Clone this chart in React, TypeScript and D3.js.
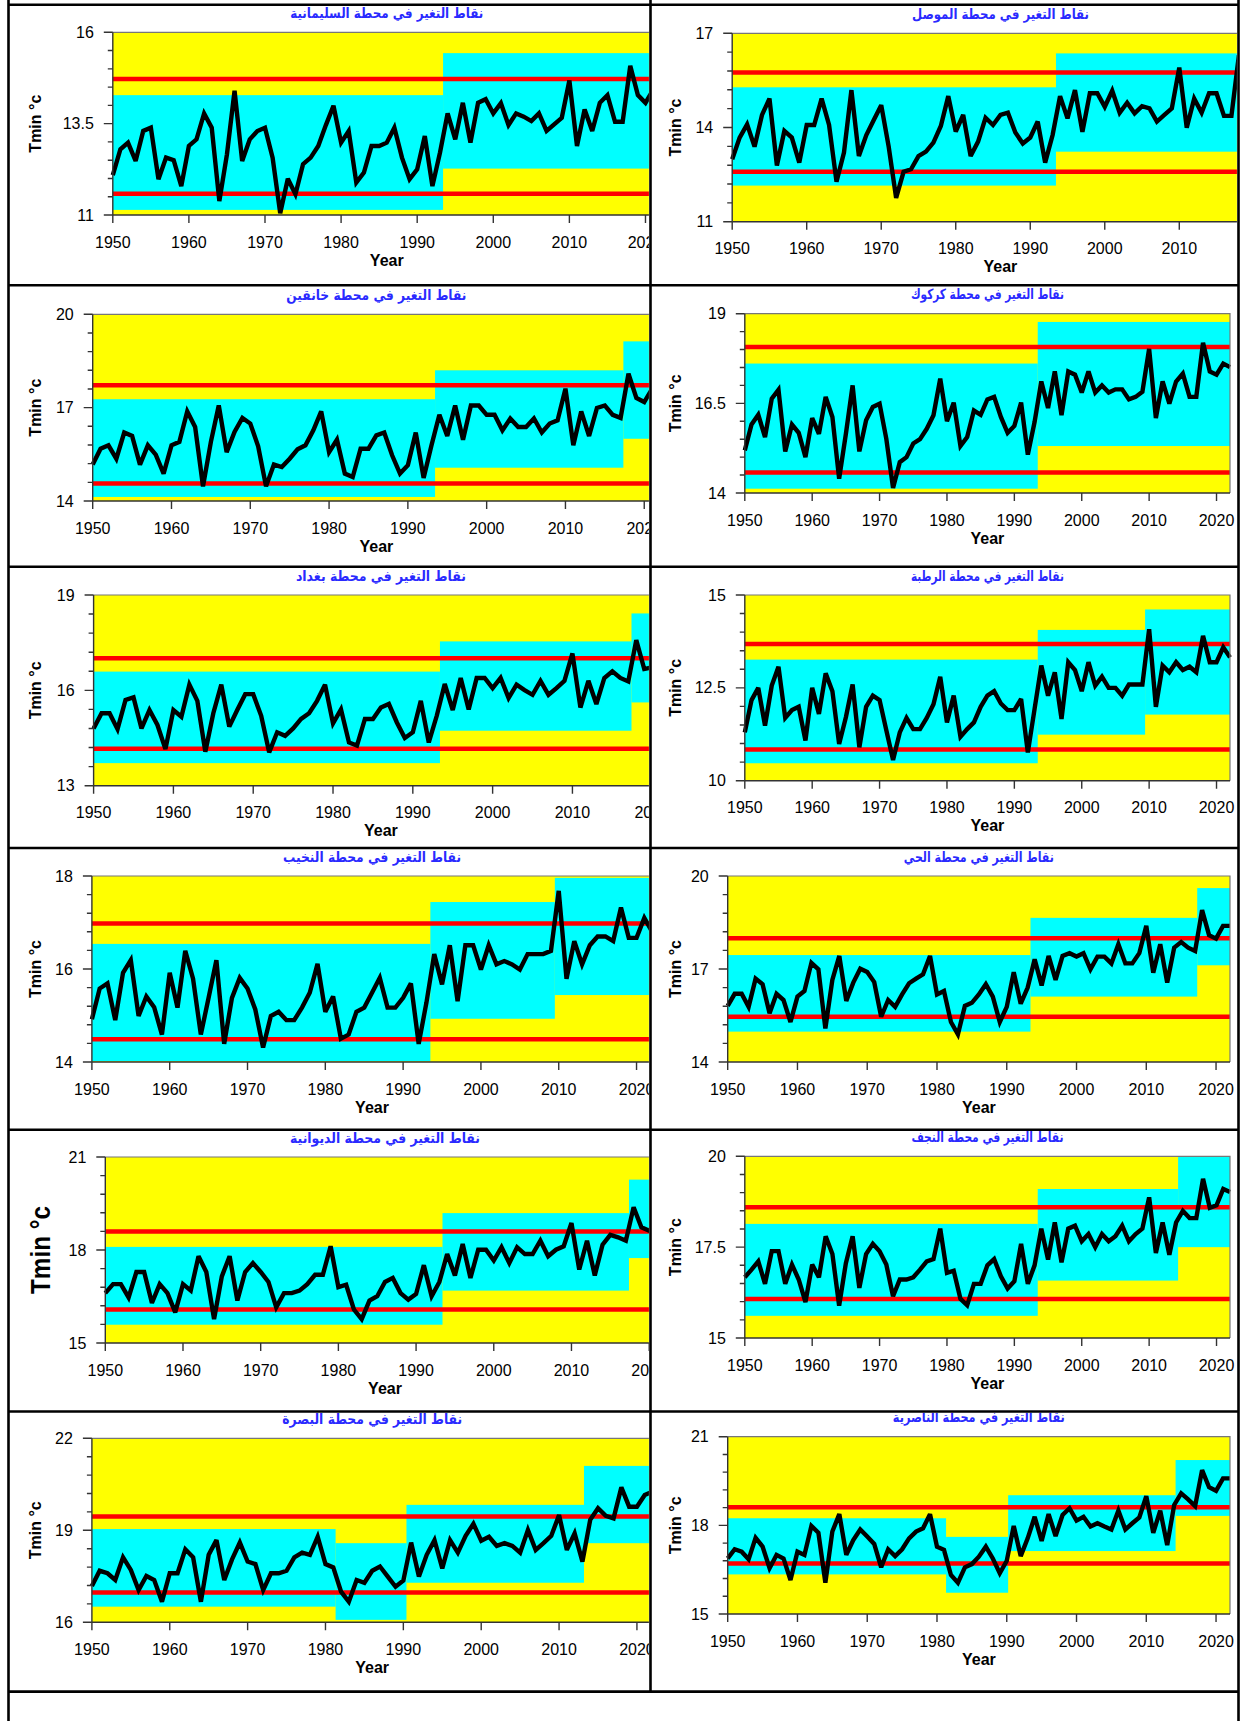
import * as React from "react";
import * as d3 from "d3";

const firstYear = 1950;
const lastYear = 2022;
const decades = d3.range(1950, 2030, 10);

const titles = [
  "نقاط التغير في محطة السليمانية",
  "نقاط التغير في محطة الموصل",
  "نقاط التغير في محطة خانقين",
  "نقاط التغير في محطة كركوك",
  "نقاط التغير في محطة بغداد",
  "نقاط التغير في محطة الرطبة",
  "نقاط التغير في محطة النخيب",
  "نقاط التغير في محطة الحي",
  "نقاط التغير في محطة الديوانية",
  "نقاط التغير في محطة النجف",
  "نقاط التغير في محطة البصرة",
  "نقاط التغير في محطة الناصرية",
];

// yearly Tmin (°C), starting 1950
const sulaymaniyah = [12.09,12.80,12.98,12.48,13.30,13.39,11.98,12.57,12.50,11.79,12.89,13.07,13.78,13.39,11.38,12.66,14.40,12.48,13.07,13.30,13.39,12.57,11.05,11.99,11.57,12.39,12.57,12.89,13.46,13.99,12.98,13.30,11.89,12.16,12.89,12.89,12.98,13.39,12.57,11.98,12.25,13.16,11.79,12.71,13.78,13.07,14.07,12.98,14.07,14.17,13.78,14.06,13.46,13.78,13.69,13.57,13.78,13.30,13.48,13.66,14.68,12.89,13.89,13.30,14.07,14.28,13.55,13.55,15.08,14.28,14.07,14.42];
const mosul = [12.99,13.68,14.10,13.39,14.40,14.92,12.79,13.89,13.68,12.88,14.08,14.08,14.92,14.08,12.27,13.20,15.19,13.09,13.76,14.24,14.71,13.39,11.76,12.59,12.67,13.09,13.23,13.52,14.05,15.00,13.87,14.40,13.09,13.55,14.31,14.08,14.40,14.47,13.84,13.49,13.68,14.19,12.88,13.76,15.00,14.29,15.19,13.86,15.09,15.09,14.66,15.17,14.47,14.79,14.45,14.68,14.61,14.19,14.40,14.61,15.91,13.99,14.92,14.47,15.09,15.09,14.37,14.37,16.30];
const khanaqin = [15.17,15.68,15.79,15.36,16.20,16.09,15.17,15.79,15.49,14.88,15.79,15.90,16.88,16.38,14.47,15.90,17.07,15.57,16.22,16.67,16.49,15.76,14.47,15.17,15.09,15.36,15.66,15.79,16.27,16.88,15.57,15.97,14.88,14.77,15.68,15.68,16.11,16.20,15.47,14.88,15.15,16.20,14.74,15.79,16.77,16.09,17.07,15.97,17.07,17.07,16.77,16.77,16.27,16.65,16.38,16.38,16.65,16.20,16.49,16.59,17.61,15.79,16.88,16.09,16.99,17.07,16.77,16.67,18.09,17.31,17.18,17.61];
const kirkuk = [15.19,15.91,16.18,15.56,16.63,16.88,15.16,15.91,15.68,15.00,16.09,15.65,16.68,16.12,14.40,15.65,17.00,15.16,16.03,16.40,16.49,15.51,14.14,14.86,15.00,15.38,15.50,15.79,16.17,17.19,16.00,16.52,15.31,15.56,16.30,16.18,16.61,16.68,16.12,15.68,15.87,16.52,15.07,15.98,17.11,16.37,17.39,16.17,17.39,17.30,16.80,17.39,16.80,17.00,16.80,16.89,16.89,16.61,16.68,16.82,18.02,16.09,17.11,16.49,17.11,17.33,16.68,16.68,18.19,17.39,17.30,17.61,17.51];
const baghdad = [14.80,15.28,15.28,14.78,15.70,15.78,14.80,15.38,14.91,14.15,15.38,15.17,16.18,15.67,14.07,15.28,16.18,14.86,15.38,15.88,15.88,15.20,14.05,14.68,14.57,14.80,15.10,15.28,15.67,16.18,14.96,15.40,14.36,14.26,15.10,15.10,15.46,15.57,14.99,14.50,14.68,15.67,14.36,15.20,16.20,15.38,16.39,15.40,16.39,16.39,16.07,16.39,15.76,16.18,16.01,15.86,16.30,15.86,16.07,16.30,17.16,15.46,16.30,15.57,16.39,16.60,16.39,16.28,17.58,16.67,16.72];
const rutba = [11.30,12.17,12.50,11.48,12.56,13.07,11.69,11.90,11.99,11.08,12.50,11.80,12.89,12.41,10.99,11.71,12.59,10.90,11.99,12.29,12.17,11.36,10.56,11.30,11.69,11.39,11.39,11.69,12.06,12.80,11.57,12.29,11.18,11.39,11.57,11.99,12.29,12.41,12.08,11.90,11.90,12.20,10.76,11.93,13.10,12.29,12.92,11.66,13.19,12.98,12.41,13.19,12.56,12.80,12.50,12.50,12.29,12.59,12.59,12.59,14.08,11.99,13.10,12.92,13.19,12.98,13.07,12.92,13.90,13.19,13.19,13.59,13.32];
const nukhaib = [14.92,15.58,15.69,14.90,15.92,16.19,14.99,15.41,15.18,14.59,15.92,15.17,16.39,15.79,14.59,15.38,16.19,14.39,15.38,15.81,15.58,15.13,14.31,14.99,15.08,14.90,14.90,15.17,15.49,16.11,15.08,15.41,14.50,14.59,15.08,15.17,15.49,15.81,15.17,15.17,15.38,15.69,14.39,15.28,16.32,15.67,16.51,15.31,16.51,16.51,15.99,16.51,16.10,16.17,16.10,15.99,16.32,16.32,16.32,16.39,17.68,15.79,16.60,16.10,16.51,16.70,16.70,16.60,17.32,16.67,16.67,17.10,16.80];
const hai = [15.81,16.20,16.20,15.78,16.69,16.51,15.57,16.20,16.00,15.29,16.11,16.29,17.20,16.99,15.08,16.65,17.42,15.97,16.56,17.01,16.90,16.58,15.46,16.00,15.78,16.18,16.54,16.69,16.83,17.42,16.18,16.29,15.29,14.89,15.81,15.91,16.18,16.51,16.11,15.29,15.78,16.90,15.88,16.40,17.31,16.47,17.42,16.65,17.42,17.51,17.40,17.51,16.99,17.40,17.40,17.18,17.80,17.18,17.18,17.51,18.39,16.88,17.80,16.56,17.69,17.87,17.69,17.58,18.90,18.09,17.98,18.39,18.39];
const diwaniyah = [16.61,16.90,16.90,16.47,17.29,17.29,16.29,16.90,16.61,15.99,16.90,16.69,17.80,17.29,15.77,17.15,17.80,16.37,17.29,17.58,17.29,16.97,16.15,16.61,16.61,16.69,16.90,17.20,17.20,18.12,16.80,16.88,16.08,15.77,16.37,16.51,16.97,17.10,16.61,16.40,16.58,17.51,16.51,16.97,17.87,17.18,18.19,17.10,18.01,18.01,17.66,18.09,17.58,18.09,17.87,17.87,18.30,17.80,18.01,18.12,18.87,17.37,18.30,17.18,18.17,18.49,18.41,18.30,19.38,18.73,18.62,18.92];
const najaf = [16.67,16.88,17.11,16.49,17.39,17.39,16.49,17.02,16.61,15.99,17.02,16.67,17.80,17.31,15.89,17.06,17.80,16.38,17.31,17.59,17.39,17.02,16.15,16.61,16.61,16.67,16.88,17.11,17.17,18.01,16.79,16.85,16.08,15.90,16.49,16.49,17.00,17.17,16.70,16.36,16.56,17.59,16.49,17.00,18.01,17.16,18.18,17.08,18.01,18.09,17.66,17.86,17.50,17.86,17.66,17.80,18.09,17.66,17.86,18.01,18.87,17.34,18.18,17.29,18.18,18.50,18.30,18.30,19.38,18.58,18.65,19.10,19.02];
const basra = [17.18,17.68,17.60,17.38,18.12,17.71,17.05,17.51,17.38,16.67,17.60,17.60,18.38,18.12,16.67,18.20,18.68,17.38,18.05,18.60,17.98,17.90,17.05,17.60,17.60,17.68,18.12,18.27,18.20,18.79,17.90,17.79,17.00,16.67,17.38,17.29,17.68,17.82,17.49,17.16,17.36,18.60,17.49,18.20,18.68,17.76,18.68,18.27,18.82,19.21,18.66,18.79,18.49,18.58,18.49,18.27,19.01,18.36,18.58,18.82,19.50,18.36,18.90,17.98,19.34,19.72,19.47,19.39,20.40,19.77,19.77,20.15,20.26];
const nasiriyah = [16.88,17.19,17.11,16.85,17.58,17.28,16.55,17.00,16.88,16.15,17.11,17.00,17.98,17.75,16.06,17.79,18.38,17.00,17.50,17.86,17.62,17.37,16.58,17.19,16.96,17.19,17.56,17.79,17.90,18.38,17.28,17.17,16.32,16.06,16.58,16.69,16.94,17.28,16.88,16.38,16.80,17.98,16.96,17.56,18.29,17.47,18.38,17.64,18.35,18.58,18.16,18.29,17.96,18.07,17.96,17.86,18.50,17.86,18.07,18.27,18.99,17.75,18.50,17.33,18.69,19.08,18.88,18.65,19.87,19.29,19.17,19.59,19.59];

const series = [sulaymaniyah, mosul, khanaqin, kirkuk, baghdad, rutba, nukhaib, hai, diwaniyah, najaf, basra, nasiriyah];

const yRanges: [number, number][] = [
  [11, 16], [11, 17], [14, 20], [14, 19], [13, 19], [10, 15],
  [14, 18], [14, 20], [15, 21], [15, 20], [16, 22], [15, 21],
];

// red limit lines
const limits = [
  [14.72, 11.58], [15.75, 12.59], [17.72, 14.56], [18.07, 14.57],
  [17.01, 14.16], [13.68, 10.84], [16.98, 14.49], [17.99, 15.46],
  [18.6, 16.08], [18.6, 16.07], [19.45, 16.97], [18.61, 16.71],
];

// regimes: [from year, to year, low, high]
const regimes: number[][][] = [
  [[1950, 1993.4, 11.14, 14.28], [1993.4, 2022, 12.27, 15.43]],
  [[1950, 1993.45, 12.15, 15.28], [1993.45, 2022, 13.23, 16.36]],
  [[1950, 1993.45, 14.13, 17.27], [1993.45, 2017.35, 15.07, 18.2], [2017.35, 2022, 16.0, 19.13]],
  [[1950, 1993.47, 14.12, 17.61], [1993.47, 2022, 15.31, 18.77]],
  [[1950, 1993.4, 13.71, 16.59], [1993.4, 2017.4, 14.73, 17.54], [2017.4, 2022, 15.62, 18.42]],
  [[1950, 1993.47, 10.47, 13.26], [1993.47, 2009.4, 11.24, 14.06], [2009.4, 2022, 11.78, 14.61]],
  [[1950, 1993.5, 14.02, 16.54], [1993.5, 2009.5, 14.93, 17.44], [2009.5, 2022, 15.44, 17.96]],
  [[1950, 1993.4, 14.98, 17.45], [1993.4, 2017.3, 16.11, 18.65], [2017.3, 2022, 17.12, 19.61]],
  [[1950, 1993.4, 15.59, 18.1], [1993.4, 2017.4, 16.69, 19.19], [2017.4, 2022, 17.74, 20.27]],
  [[1950, 1993.47, 15.61, 18.14], [1993.47, 2014.3, 16.58, 19.1], [2014.3, 2022, 17.5, 19.98]],
  [[1950, 1981.3, 16.51, 19.04], [1981.3, 1990.4, 16.08, 18.58], [1990.4, 2013.2, 17.29, 19.83], [2013.2, 2022, 18.58, 21.1]],
  [[1950, 1981.3, 16.34, 18.24], [1981.3, 1990.2, 15.72, 17.61], [1990.2, 2014.2, 17.13, 19.02], [2014.2, 2022, 18.32, 20.21]],
];

// layout (page pixels)
const W = 1243;
const H = 1721;
const colX = [8.5, 650.5, 1238.5];
const rowY = [4.7, 285.3, 566.7, 848, 1129.8, 1411.5, 1691.6];
const frames = [
  { left: 112.8, right: 660.7, top: 32.3, bottom: 215 },
  { left: 732.2, right: 1268.7, top: 33.3, bottom: 221.7 },
  { left: 92.7, right: 660.0, top: 314.3, bottom: 501 },
  { left: 744.8, right: 1230, top: 313.7, bottom: 493 },
  { left: 93.6, right: 668.2, top: 595, bottom: 785.7 },
  { left: 744.8, right: 1230, top: 595, bottom: 780.7 },
  { left: 91.9, right: 652.1, top: 876, bottom: 1062 },
  { left: 727.7, right: 1230, top: 876, bottom: 1062 },
  { left: 105.3, right: 664.7, top: 1157, bottom: 1343 },
  { left: 744.8, right: 1230, top: 1156.3, bottom: 1338 },
  { left: 91.9, right: 652.5, top: 1438.3, bottom: 1622.3 },
  { left: 727.7, right: 1230, top: 1436.7, bottom: 1614 },
];
const titleWidths = [193, 177, 180, 153, 170, 153, 178, 150, 190, 152, 180, 172];

const tickFont = "'Liberation Sans', Arial, sans-serif";

function Panel({ i }: { i: number }) {
  const col = i % 2;
  const row = Math.floor(i / 2);
  const f = frames[i];
  const [y0, y1] = yRanges[i];
  const x = d3.scaleLinear().domain([firstYear, lastYear]).range([f.left, f.right]);
  const y = d3.scaleLinear().domain([y0, y1]).range([f.bottom, f.top]);
  const line = d3
    .line<number>()
    .x((d, k) => x(firstYear + k))
    .y((d) => y(d));
  const yTicks = d3.range(11).map((k) => y0 + (k * (y1 - y0)) / 10);
  const cx = (f.left + f.right) / 2;
  const cy = (f.top + f.bottom) / 2;
  const big = i === 8;
  const labX = col === 0 ? (big ? 40 : 35.5) : 675.5;
  const clipId = `cell${i}`;
  const cellRight = colX[col + 1] - 1.6;
  // year labels that would barely peek past the cell edge are left out
  const shownDecades = decades.filter((d) => x(d) - 18 + 6 < cellRight);

  return (
    <g>
      <clipPath id={clipId}>
        <rect
          x={colX[col] + 1.3}
          y={rowY[row] + 1.3}
          width={cellRight - colX[col] - 1.3}
          height={rowY[row + 1] - rowY[row] - 2.6}
        />
      </clipPath>
      <g clipPath={`url(#${clipId})`}>
        <rect
          x={x(firstYear)}
          y={y(y1)}
          width={x(lastYear) - x(firstYear)}
          height={y(y0) - y(y1)}
          fill="#ffff00"
        />
        {regimes[i].map(([a, b, lo, hi], k) => (
          <rect key={k} x={x(a)} y={y(hi)} width={x(b) - x(a)} height={y(lo) - y(hi)} fill="#00ffff" />
        ))}
        {limits[i].map((v, k) => (
          <line key={k} x1={x(firstYear)} x2={x(lastYear)} y1={y(v)} y2={y(v)} stroke="#ff0000" strokeWidth={4.5} />
        ))}
        <path
          d={line(series[i]) || undefined}
          fill="none"
          stroke="#000"
          strokeWidth={4.4}
          strokeLinejoin="miter"
          strokeMiterlimit={3}
        />
        <path
          d={`M${x(firstYear)},${y(y1)}H${x(lastYear)}V${y(y0)}`}
          fill="none"
          stroke="#777"
          strokeWidth={1.2}
        />
        <g stroke="#333" strokeWidth={1.4}>
          <line x1={x(firstYear)} x2={x(firstYear)} y1={y(y1)} y2={y(y0)} />
          <line x1={x(firstYear)} x2={x(lastYear)} y1={y(y0)} y2={y(y0)} />
          {yTicks.map((t, k) => (
            <line key={k} x1={x(firstYear) - (k % 5 === 0 ? 9 : 5)} x2={x(firstYear)} y1={y(t)} y2={y(t)} />
          ))}
          {decades.map((d) => (
            <line key={d} x1={x(d)} x2={x(d)} y1={y(y0)} y2={y(y0) + 8} />
          ))}
        </g>
        <g fontFamily={tickFont} fontSize={16} fill="#000">
          {yTicks
            .filter((t, k) => k % 5 === 0)
            .map((t) => (
              <text key={t} x={x(firstYear) - 19} y={y(t)} textAnchor="end" dominantBaseline="central">
                {d3.format("~g")(t)}
              </text>
            ))}
          {shownDecades.map((d) => (
            <text key={d} x={x(d)} y={y(y0) + 27} textAnchor="middle" dominantBaseline="central">
              {d}
            </text>
          ))}
          <text x={cx} y={y(y0) + 45} textAnchor="middle" dominantBaseline="central" fontWeight="bold">
            Year
          </text>
          <text
            transform={`translate(${labX},${cy}) rotate(-90)`}
            textAnchor="middle"
            dominantBaseline="central"
            fontWeight="bold"
            fontSize={big ? 28 : 16}
            textLength={big ? 88 : undefined}
            lengthAdjust="spacingAndGlyphs"
          >
            Tmin °c
          </text>
        </g>
        <text
          x={cx}
          y={f.top - 19.5}
          textAnchor="middle"
          dominantBaseline="central"
          fontFamily="'DejaVu Sans', sans-serif"
          fontWeight="bold"
          fontSize={14}
          fill="#2a2aff"
          direction="rtl"
          textLength={titleWidths[i]}
          lengthAdjust="spacingAndGlyphs"
        >
          {titles[i]}
        </text>
      </g>
    </g>
  );
}

export default function App() {
  return (
    <div style={{ position: "absolute", left: 0, top: 0 }}>
      <svg width={W} height={H} style={{ display: "block", background: "#fff" }}>
        {series.map((s, i) => (
          <Panel key={i} i={i} />
        ))}
        <g stroke="#000" strokeWidth={2.6}>
          {rowY.map((yy, k) => (
            <line key={k} x1={colX[0]} x2={colX[2]} y1={yy} y2={yy} />
          ))}
          <line x1={colX[0]} x2={colX[0]} y1={0} y2={H} />
          <line x1={colX[1]} x2={colX[1]} y1={0} y2={rowY[rowY.length - 1]} />
          <line x1={colX[2]} x2={colX[2]} y1={0} y2={H} />
        </g>
      </svg>
    </div>
  );
}
